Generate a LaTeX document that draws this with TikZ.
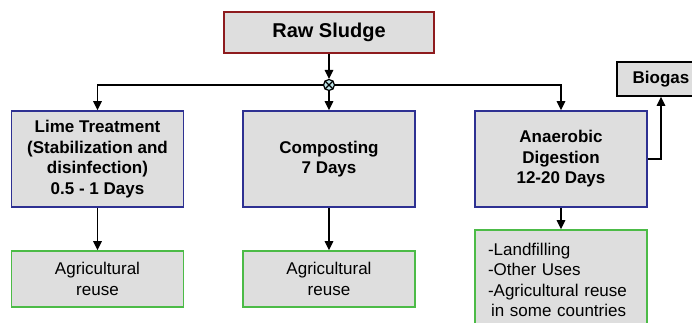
\documentclass[tikz,border=0pt]{standalone}
\usepackage{fontspec}
\setmainfont{Liberation Sans}
\usetikzlibrary{arrows.meta}
\definecolor{boxgray}{HTML}{DEDEDE}
\definecolor{sludgered}{HTML}{8E1B1E}
\definecolor{procblue}{HTML}{2E3192}
\definecolor{usegreen}{HTML}{4CBB47}
\definecolor{joincyan}{HTML}{BFE6EA}
\tikzset{
  box/.style={draw, fill=boxgray, line width=1.6pt, inner sep=0pt, align=center,
    font=\fontsize{17}{20.5}\selectfont},
  sourcebox/.style={box, draw=sludgered, minimum width=210pt, minimum height=41pt,
    font=\fontsize{20}{24}\selectfont\bfseries},
  procbox/.style={box, draw=procblue, minimum width=172pt, minimum height=96pt,
    font=\fontsize{17}{20.5}\selectfont\bfseries},
  usebox/.style={box, draw=usegreen, minimum width=172pt, minimum height=56pt},
  gasbox/.style={box, draw=black, minimum width=88pt, minimum height=34pt,
    font=\fontsize{17}{20.5}\selectfont\bfseries},
  flow/.style={line width=1.4pt, -{Triangle[length=9pt,width=8.5pt]}},
  link/.style={line width=1.4pt}
}
\begin{document}
\begin{tikzpicture}[x=1pt,y=-1pt]
\useasboundingbox (0,0) rectangle (692,323);
\clip (0,0) rectangle (692,323);

% source
\node[sourcebox] (raw) at (329,32.5) {Raw Sludge};

% splitting junction
\node[circle, draw, fill=joincyan, line width=1.2pt, minimum size=11pt, inner sep=0pt]
  (j) at (329,85) {};
\draw[line width=1.1pt] (j.north west) -- (j.south east) (j.north east) -- (j.south west);

% treatment processes
\node[procbox] (lime) at (97.5,159) {Lime Treatment\\(Stabilization and\\disinfection)\\0.5 - 1 Days};
\node[procbox] (comp) at (329,159) {Composting\\7 Days};
\node[procbox] (anae) at (561,159) {Anaerobic\\Digestion\\12-20 Days};

% end uses
\node[usebox] (use1) at (97.5,279) {Agricultural\\reuse};
\node[usebox] (use2) at (329,279) {Agricultural\\reuse};
\node[box, draw=usegreen, minimum width=172pt, minimum height=100pt, inner xsep=13pt,
  text width=146pt, align=left] (use3) at (561,280)
  {-Landfilling\\-Other Uses\\-Agricultural reuse\\\hspace*{3pt}in some countries};
\node[gasbox] (gas) at (661,79) {Biogas};

% connectors
\draw[flow] (raw.south) -- (j.north);
\draw[flow] (j.south) -- (comp.north);
\draw[flow] (j.west) -| (lime.north);
\draw[flow] (j.east) -| (anae.north);
\draw[flow] (lime.south) -- (use1.north);
\draw[flow] (comp.south) -- (use2.north);
\draw[flow] (anae.south) -- (use3.north);
\draw[flow] (anae.east) -| (gas.south);
\end{tikzpicture}
\end{document}
